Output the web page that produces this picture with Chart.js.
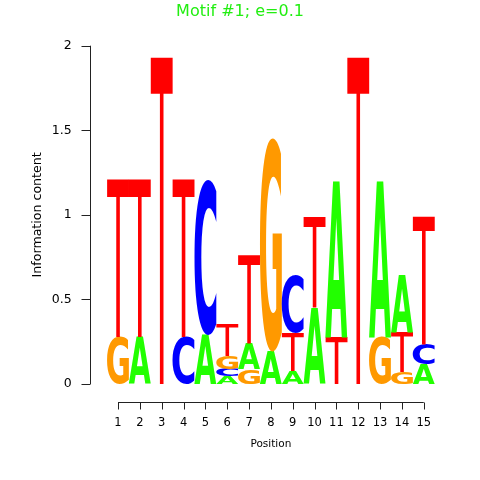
<!DOCTYPE html>
<html lang="en">
<head>
  <meta charset="UTF-8">
  <title>Motif #1</title>
  <script src="https://cdnjs.cloudflare.com/ajax/libs/Chart.js/4.4.1/chart.umd.min.js"></script>
  <style>
    html, body { margin: 0; padding: 0; background: #fff; }
    #wrap { width: 480px; height: 480px; }
  </style>
</head>
<body>
  <div id="wrap">
    <canvas id="logoChart" width="480" height="480"></canvas>
  </div>
  <script>
    // positions of the motif
    const positions = ['1', '2', '3', '4', '5', '6', '7', '8', '9', '10', '11', '12', '13', '14', '15'];
    // information content (bits) of each base at each position
    const infoA = [0, 0.28, 0, 0, 0.29, 0.044, 0.15, 0.191, 0.077, 0.449, 0.928, 0, 0.926, 0.337, 0.113];
    const infoC = [0, 0, 0, 0.28, 0.916, 0.046, 0, 0, 0.344, 0, 0, 0, 0, 0, 0.117];
    const infoG = [0.28, 0, 0, 0, 0, 0.075, 0.09, 1.261, 0, 0, 0, 0, 0.28, 0.07, 0];
    const infoT = [0.926, 0.926, 1.928, 0.926, 0, 0.185, 0.522, 0, 0.224, 0.538, 0.278, 1.928, 0, 0.237, 0.757];
    const yTicks = [0, 0.5, 1, 1.5, 2];
    const chartTitle = 'Motif #1; e=0.1';

    const baseColors = { A: '#22FF00', C: '#0000FF', G: '#FF9900', T: '#FF0000' };
    const baseFonts = {
      A: 'bold 400px "DejaVu Sans", sans-serif',
      C: 'bold 400px "DejaVu Sans", sans-serif',
      G: 'bold 400px "DejaVu Sans", sans-serif',
      T: '400px "Liberation Sans", sans-serif'
    };
    const textFont = '"DejaVu Sans", sans-serif';

    // one dataset per stacking rank: smallest letter at the bottom
    const bases = { A: infoA, C: infoC, G: infoG, T: infoT };
    const layers = [0, 1, 2, 3].map(() => ({ data: [], letters: [] }));
    positions.forEach((p, i) => {
      const col = Object.keys(bases).map(b => ({ b: b, h: bases[b][i] }));
      col.sort((u, v) => u.h - v.h);
      col.forEach((c, r) => {
        layers[r].data.push(c.h);
        layers[r].letters.push(c.b);
      });
    });

    const datasets = layers.map(l => ({
      data: l.data,
      letters: l.letters,
      backgroundColor: 'rgba(0,0,0,0)',
      borderWidth: 0,
      barPercentage: 1,
      categoryPercentage: 1
    }));

    // exact ink box of a letter, found by scanning an offscreen canvas
    const glyphCache = {};
    function glyphBox(letter) {
      if (glyphCache[letter]) return glyphCache[letter];
      const c = document.createElement('canvas');
      c.width = 600; c.height = 600;
      const g = c.getContext('2d');
      g.font = baseFonts[letter];
      g.textBaseline = 'alphabetic';
      g.fillStyle = '#000';
      g.fillText(letter, 100, 500);
      const px = g.getImageData(0, 0, 600, 600).data;
      let x0 = 600, x1 = 0, y0 = 600, y1 = 0;
      for (let y = 0; y < 600; y++) {
        for (let x = 0; x < 600; x++) {
          if (px[(y * 600 + x) * 4 + 3] > 127) {
            if (x < x0) x0 = x;
            if (x > x1) x1 = x;
            if (y < y0) y0 = y;
            if (y > y1) y1 = y;
          }
        }
      }
      glyphCache[letter] = { font: baseFonts[letter], ox: 100 - x0, oy: 500 - y0, w: x1 - x0 + 1, h: y1 - y0 + 1 };
      return glyphCache[letter];
    }

    // letters stretched to fill each stacked bar
    const glyphPlugin = {
      id: 'glyphs',
      afterDatasetsDraw(chart) {
        const ctx = chart.ctx;
        chart.data.datasets.forEach((ds, di) => {
          const meta = chart.getDatasetMeta(di);
          meta.data.forEach((bar, i) => {
            const letter = ds.letters[i];
            const p = bar.getProps(['x', 'y', 'base', 'width'], true);
            const h = p.base - p.y;
            if (h < 0.2) return;
            const gb = glyphBox(letter);
            ctx.save();
            ctx.font = gb.font;
            ctx.textAlign = 'left';
            ctx.textBaseline = 'alphabetic';
            ctx.translate(p.x - p.width / 2, p.y);
            ctx.scale(p.width / gb.w, h / gb.h);
            ctx.fillStyle = baseColors[letter];
            ctx.fillText(letter, gb.ox, gb.oy);
            ctx.restore();
          });
        });
      }
    };

    // R style axes, set off from the plot region, and the page-centred title
    const axesPlugin = {
      id: 'rAxes',
      afterDraw(chart) {
        const ctx = chart.ctx;
        const xs = chart.scales.x, ys = chart.scales.y;
        const ax = Math.round(chart.chartArea.left - 17) + 0.5;
        const ay = Math.round(chart.chartArea.bottom + 18) + 0.5;
        ctx.save();
        ctx.strokeStyle = '#222';
        ctx.lineWidth = 1;
        ctx.beginPath();
        ctx.moveTo(ax, ys.getPixelForValue(yTicks[0]));
        ctx.lineTo(ax, ys.getPixelForValue(yTicks[yTicks.length - 1]));
        yTicks.forEach(v => {
          const py = Math.round(ys.getPixelForValue(v)) + 0.5;
          ctx.moveTo(ax, py);
          ctx.lineTo(ax - 9, py);
        });
        const x0 = xs.getPixelForValue(0), x1 = xs.getPixelForValue(positions.length - 1);
        ctx.moveTo(x0, ay);
        ctx.lineTo(x1, ay);
        positions.forEach((p, i) => {
          const px = Math.round(xs.getPixelForValue(i)) + 0.5;
          ctx.moveTo(px, ay);
          ctx.lineTo(px, ay + 7);
        });
        ctx.stroke();

        ctx.fillStyle = '#22EE11';
        ctx.font = '16px ' + textFont;
        ctx.textAlign = 'center';
        ctx.textBaseline = 'alphabetic';
        ctx.fillText(chartTitle, chart.width / 2, 15.5);
        ctx.restore();
      }
    };

    new Chart(document.getElementById('logoChart').getContext('2d'), {
      type: 'bar',
      data: { labels: positions, datasets: datasets },
      options: {
        responsive: false,
        animation: false,
        devicePixelRatio: 1,
        layout: { padding: { top: 45.7, left: 0, right: 45.3, bottom: 0 } },
        plugins: {
          legend: { display: false },
          tooltip: { enabled: false },
          title: { display: false }
        },
        scales: {
          x: {
            stacked: true,
            offset: true,
            grid: { display: false, drawTicks: false },
            border: { display: false },
            ticks: { color: '#000', padding: 32, font: { family: textFont, size: 11.5 } },
            title: {
              display: true,
              text: 'Position',
              color: '#000',
              font: { family: textFont, size: 10.5 },
              padding: { top: 0, bottom: 29.7 }
            },
            afterFit(scale) { scale.height = 96; }
          },
          y: {
            stacked: true,
            min: 0,
            max: 2,
            grid: { display: false, drawTicks: false },
            border: { display: false },
            afterBuildTicks(scale) { scale.ticks = yTicks.map(v => ({ value: v })); },
            ticks: {
              color: '#000',
              padding: 35.4,
              font: { family: textFont, size: 12.5 },
              callback: v => String(v)
            },
            title: {
              display: true,
              text: 'Information content',
              color: '#000',
              font: { family: textFont, size: 12.6 },
              padding: { top: 30, bottom: 0 }
            },
            afterFit(scale) { scale.width = 107.1; }
          }
        }
      },
      plugins: [glyphPlugin, axesPlugin]
    });
  </script>
</body>
</html>
